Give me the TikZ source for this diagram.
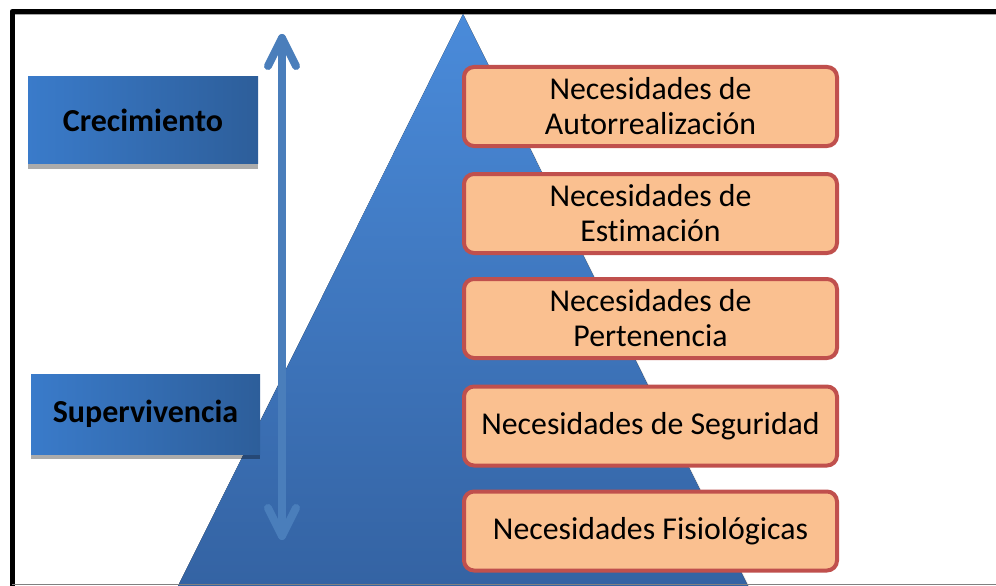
\documentclass[tikz,border=0pt]{standalone}
\usepackage{fontspec}
\setmainfont[Ligatures=NoCommon]{Carlito}
\usetikzlibrary{fadings}
\definecolor{boxfill}{HTML}{FAC090}
\definecolor{boxline}{HTML}{C0504D}
\definecolor{triTop}{HTML}{4A8BDA}
\definecolor{triBot}{HTML}{3463A3}
\definecolor{lbL}{HTML}{3A7BCA}
\definecolor{lbR}{HTML}{2D5E9A}
\definecolor{arrowc}{HTML}{4A7EBB}
\tikzfading[name=arrowfade, top color=transparent!0, bottom color=transparent!55]
\tikzset{
  lbox/.style={minimum width=230pt, inner sep=0pt, left color=lbL, right color=lbR,
    font=\fontsize{32}{36}\selectfont\bfseries, text=black},
  lshadow/.style={fill=black, opacity=0.33},
  rbox/.style={rounded corners=10pt, draw=boxline, line width=4pt, fill=boxfill,
    minimum width=373pt, minimum height=79pt, inner sep=0pt, align=center,
    font=\fontsize{31.8}{35}\selectfont, text=black},
  frameline/.style={line width=5pt, line join=round, draw=black},
  updown/.style={draw=arrowc, line width=8pt, line cap=round, line join=round}
}
\begin{document}
\begin{tikzpicture}[x=1pt,y=-1pt]
\useasboundingbox (0,0) rectangle (996,586);
\fill[white] (0,0) rectangle (996,586);
% frame
\draw[gray!70, line width=1pt] (15,14.5) -- (1002,14.5);
\draw[frameline] (12,592) -- (12,11.5) -- (1002,11.5);
% pyramid
\fill[black, opacity=0.15] (465,17) -- (751,590) -- (180,590) -- cycle;
\fill[top color=triTop, bottom color=triBot] (463,14) -- (748,586) -- (178,586) -- cycle;
% up-down arrow
\coordinate (atop) at (282,38);
\coordinate (abot) at (282,536);
\begin{scope}[path fading=arrowfade]
\draw[updown] (atop) -- (abot);
\draw[updown] (atop) ++(-14,28) -- (atop) -- ++(14,28);
\draw[updown] (abot) ++(-14,-28) -- (abot) -- ++(14,-28);
\end{scope}
% left boxes
\fill[lshadow] (28,82) rectangle (258,169);
\node[lbox, minimum height=87pt] (crec) at (143,120) {Crecimiento};
\fill[lshadow] (31,378) rectangle (260,459);
\node[lbox, minimum width=229pt, minimum height=80pt] (superv) at (145.5,414) {Supervivencia};
% right boxes
\node[rbox] (autor) at (650.5,106.5) {Necesidades de\\Autorrealización};
\node[rbox] (estim) at (650.5,213.5) {Necesidades de\\Estimación};
\node[rbox] (perten) at (650.5,318.5) {Necesidades de\\Pertenencia};
\node[rbox] (segur) at (650.5,426) {Necesidades de Seguridad};
\node[rbox] (fisio) at (650.5,531) {Necesidades Fisiológicas};
% bottom line
\draw[gray, line width=1.5pt] (12,584.5) -- (996,584.5);
\end{tikzpicture}
\end{document}
